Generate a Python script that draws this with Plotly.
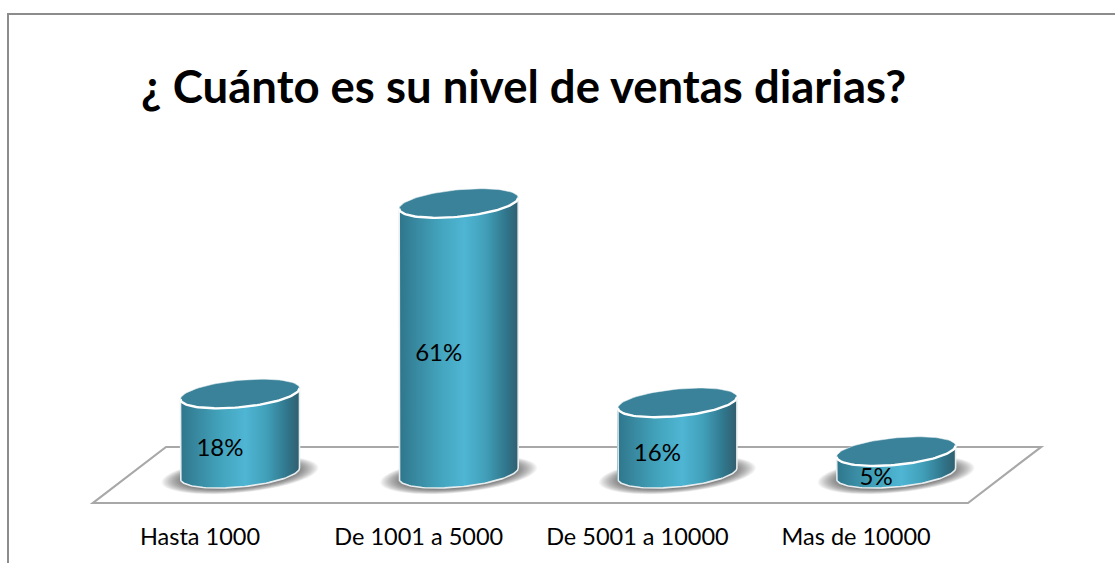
import numpy as np
import plotly.graph_objects as go

# ---- data ----
categories = ["Hasta 1000", "De 1001 a 5000", "De 5001 a 10000", "Mas de 10000"]
values = [18, 61, 16, 5]

# ---- canvas / scale calibration ----
W, H = 1115, 563
X0_PX, X_STEP = 240.0, 218.7     # px position of first category, px per category
Y0_PX, Y_STEP = 473.5, 4.43      # px position of value 0, px per percentage point
A_PX, SHEAR_PX, B_PX = 59.5, 5.5, 13.5   # cylinder ellipse geometry
FONT = "Lato"


def xv(px):
    return (px - X0_PX) / X_STEP


def yv(py):
    return (Y0_PX - py) / Y_STEP


DX = A_PX / X_STEP
SH = SHEAR_PX / Y_STEP
B = B_PX / Y_STEP


def ring(cx, cy, scale=1.0, n=90):
    """closed ellipse (x, y) in data units, tilted like the cylinder caps"""
    th = np.linspace(0, 2 * np.pi, n)
    return (cx + scale * DX * np.cos(th),
            cy + scale * (SH * np.cos(th) + B * np.sin(th)))


def arc(cx, cy, t0, t1, n=60):
    th = np.linspace(t0, t1, n)
    return cx + DX * np.cos(th), cy + SH * np.cos(th) + B * np.sin(th)


def shade(t):
    """horizontal cylinder shading; t runs -1..1"""
    stops_t = [-1.0, -0.75, -0.3, 0.1, 0.45, 0.8, 1.0]
    stops_r = [47, 55, 68, 79, 66, 48, 48]
    stops_g = [118, 135, 165, 182, 160, 118, 96]
    stops_b = [140, 158, 190, 212, 186, 140, 112]
    return "rgb(%d,%d,%d)" % (np.interp(t, stops_t, stops_r),
                              np.interp(t, stops_t, stops_g),
                              np.interp(t, stops_t, stops_b))


fig = go.Figure()
shapes = []

# floor
fx = [xv(p) for p in (93, 968, 1041, 166)]
fy = [yv(p) for p in (503, 503, 447, 447)]
floor_path = "M %f %f L %f %f L %f %f L %f %f Z" % (fx[0], fy[0], fx[1], fy[1], fx[2], fy[2], fx[3], fy[3])
shapes.append(dict(type="path", path=floor_path, xref="x", yref="y", layer="below",
                   line=dict(color="#a8a8a8", width=2.2), fillcolor="white"))

# frame
shapes.append(dict(type="path", xref="paper", yref="paper", layer="below",
                   path="M %f 0 L %f %f L 1 %f" % (8 / W, 8 / W, 1 - 14 / H, 1 - 14 / H),
                   line=dict(color="#8c8c8c", width=2)))

for i, v in enumerate(values):
    # soft floor shadow
    for s in np.linspace(1.32, 0.95, 20):
        rx, ry = ring(i, yv(475), s, 50)
        d = "M " + " L ".join("%.4f %.4f" % p for p in zip(rx, ry)) + " Z"
        shapes.append(dict(type="path", path=d, xref="x", yref="y", layer="below",
                           line_width=0, fillcolor="rgba(50,50,50,0.042)"))

    # cylinder body: one narrow bar per pixel column
    n = int(2 * A_PX)
    ts = (np.arange(n) + 0.5) / n * 2 - 1
    xs = i + ts * DX
    lower = SH * ts - B * np.sqrt(1 - ts ** 2)
    upper = v + SH * ts
    fig.add_trace(go.Bar(x=xs, y=upper - lower, base=lower, width=1 / X_STEP,
                         marker=dict(color=[shade(t) for t in ts], line_width=0),
                         hoverinfo="skip", showlegend=False))

    # outline of sides and bottom
    bx, by = arc(i, 0, np.pi, 2 * np.pi)
    ox = np.r_[i - DX, bx, i + DX]
    oy = np.r_[v - SH, by, v + SH]
    fig.add_trace(go.Scatter(x=ox, y=oy, mode="lines", hoverinfo="skip", showlegend=False,
                             line=dict(color="rgb(232,238,240)", width=1.6)))

    # top cap
    tx, ty = ring(i, v)
    fig.add_trace(go.Scatter(x=tx, y=ty, mode="lines", fill="toself", fillcolor="#3a8299",
                             hoverinfo="skip", showlegend=False,
                             line=dict(color="rgba(235,242,245,0.55)", width=1)))
    fx2, fy2 = arc(i, v, np.pi, 2 * np.pi)
    fig.add_trace(go.Scatter(x=fx2, y=fy2, mode="lines", hoverinfo="skip", showlegend=False,
                             line=dict(color="white", width=2.4)))

# value labels
fig.add_trace(go.Scatter(
    x=[i + xv(X0_PX - 20) for i in range(len(values))],
    y=[v / 2 - 3.8 for v in values],
    mode="text", text=["%d%%" % v for v in values],
    textposition="middle center", textfont=dict(family=FONT, size=24, color="black"),
    hoverinfo="skip", showlegend=False))

fig.update_layout(
    width=W, height=H, margin=dict(l=0, r=0, t=0, b=0, pad=0),
    paper_bgcolor="white", plot_bgcolor="white", barmode="overlay", bargap=0,
    showlegend=False, shapes=shapes,
    title=dict(text="<b>¿ Cuánto es su nivel de ventas diarias?</b>", x=141 / W, xref="paper",
               xanchor="left", y=1 - 87 / H, yref="paper", yanchor="middle",
               font=dict(family=FONT, size=45.5, color="black")),
    xaxis=dict(domain=[0, 1], range=[xv(0), xv(W)], anchor="free", position=1 - 520 / H,
               tickmode="array", tickvals=[i - 40 / X_STEP for i in range(len(categories))],
               ticktext=categories, ticklen=0, showgrid=False, zeroline=False, showline=False,
               tickfont=dict(family=FONT, size=23.5, color="black"), tickangle=0),
    yaxis=dict(domain=[0, 1], range=[yv(H), yv(0)], visible=False, showgrid=False, zeroline=False),
)
fig.write_html("out.html", config=dict(displayModeBar=False),
               post_script="document.body.style.margin='0';")
